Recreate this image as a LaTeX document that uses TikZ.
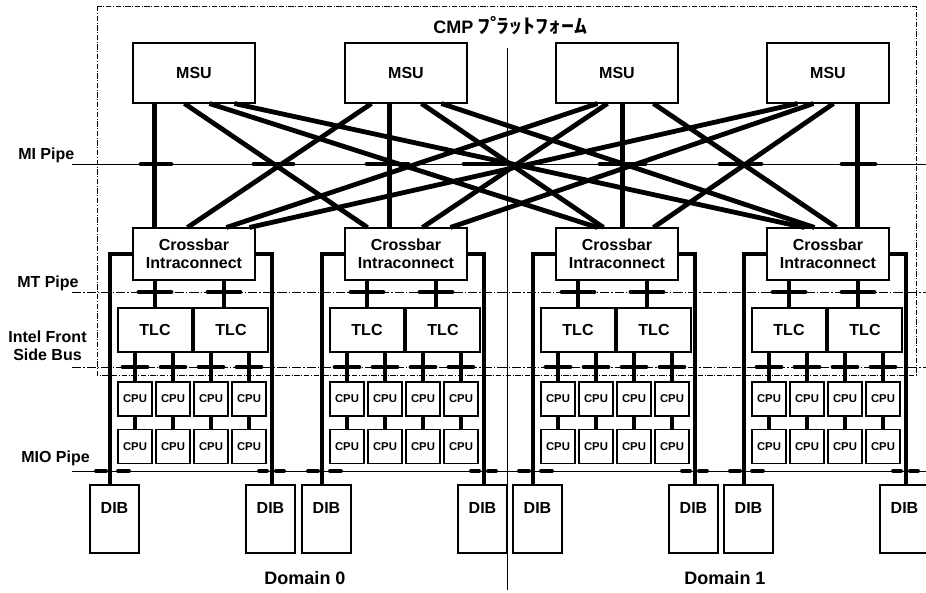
\documentclass[tikz,border=0pt]{standalone}
\usepackage{fontspec}
\setmainfont{Liberation Sans}
\newfontfamily\jpfont{Noto Sans CJK JP}[BoldFont={* Bold}]
\usetikzlibrary{calc}
\begin{document}
\begin{tikzpicture}[x=0.75pt,y=-0.75pt,
  every node/.style={font=\bfseries\fontsize{12}{13.5}\selectfont, inner sep=0pt},
  box/.style={draw, line width=0.8pt},
  msu/.style={box, minimum width=91.5pt, minimum height=45pt},
  cbox/.style={box, minimum width=91.5pt, minimum height=39pt, align=center},
  tlc/.style={box, minimum width=55.5pt, minimum height=33pt},
  cpu/.style={box, minimum width=25.5pt, minimum height=25.5pt, font=\bfseries\fontsize{8.5}{10}\selectfont},
  dib/.style={box, minimum width=36.75pt, minimum height=51pt},
  lbl/.style={anchor=base west},
  bus/.style={line width=3.6pt},
  framel/.style={line width=3pt, line join=miter},
  pipe/.style={line width=0.75pt},
  dpipe/.style={line width=0.75pt, dash pattern=on 7pt off 1.5pt on 1pt off 1.5pt},
  tap/.style={line width=3.6pt, line cap=round},
  mtap/.style={line width=3pt, line cap=round},
  outer/.style={line width=0.7pt, dash pattern=on 4pt off 1.2pt on 0.8pt off 1.2pt},
]
\useasboundingbox (0,0) rectangle (926,593);
\clip (0,0) rectangle (926,593);

% outer platform frame and title
\draw[outer] (97,6) rectangle (916,375);
\node[anchor=base west] (title) at (433,33) {\fontsize{13.5}{16}\selectfont CMP\hspace{3pt}{\jpfont\fontsize{15}{16}\selectfont\scalebox{1.3}[1]{ﾌﾟ\kern-0.25emﾗｯﾄﾌｫｰﾑ}}};

% domain divider
\coordinate (divtop) at (507,48);
\coordinate (divbot) at (507,590);
\draw[pipe] (divtop) -- (divbot);

% pipes
\coordinate (mi0) at (72,164);   \coordinate (mi1) at (926,164);
\coordinate (mt0) at (72,292);   \coordinate (mt1) at (926,292);
\coordinate (fsb0) at (72,367);  \coordinate (fsb1) at (926,367);
\coordinate (mio0) at (72,471);  \coordinate (mio1) at (926,471);
\draw[pipe] (mi0) -- (mi1);
\draw[dpipe] (mt0) -- (mt1);
\draw[dpipe] (fsb0) -- (fsb1);
\draw[pipe] (mio0) -- (mio1);

% left labels
\node[lbl] (lmi) at (18,159) {MI Pipe};
\node[lbl] (lmt) at (17,287) {MT Pipe};
\node[align=center] (lfsb) at (47.5,346) {Intel Front\\Side Bus};
\node[lbl] (lmio) at (21,462) {MIO Pipe};

% domain labels
\node[anchor=base, font=\bfseries\fontsize{13.5}{16}\selectfont] (dom0) at (305,584) {Domain 0};
\node[anchor=base, font=\bfseries\fontsize{13.5}{16}\selectfont] (dom1) at (725,584) {Domain 1};

% groups
\foreach \g/\gx in {1/118,2/330,3/541,4/752}{
  \node[msu] (msu\g) at (\gx+76,73) {MSU};
  \node[cbox] (cb\g) at (\gx+76,254) {Crossbar\\Intraconnect};
  \node[tlc] (tlc\g a) at (\gx+37,330) {TLC};
  \node[tlc] (tlc\g b) at (\gx+113,330) {TLC};
  \foreach \k/\o in {1/17,2/55,3/93,4/131}{
    \node[cpu] (cpuA\g\k) at (\gx+\o,399) {CPU};
    \node[cpu] (cpuB\g\k) at (\gx+\o,446.5) {CPU};
  }
  % crossbar to TLC
  \coordinate (va\g) at (\gx+37,292);
  \coordinate (vb\g) at (\gx+106,292);
  \draw[bus] (cb\g.south -| va\g) -- (tlc\g a.north -| va\g);
  \draw[bus] (cb\g.south -| vb\g) -- (tlc\g b.north -| vb\g);
  \draw[tap] (\gx+21,292) -- (\gx+53,292);
  \draw[tap] (\gx+90,292) -- (\gx+122,292);
  % TLC to CPUs
  \foreach \k/\o/\t in {1/17/a,2/55/a,3/93/b,4/131/b}{
    \draw[bus] (tlc\g\t.south -| cpuA\g\k.north) -- (cpuA\g\k.north);
    \draw[tap] (\gx+\o-12,367) -- (\gx+\o+12,367);
    \draw[bus] (cpuA\g\k.south) -- (cpuB\g\k.north);
  }
  % DIBs and frame
  \node[dib] (dibL\g) at (\gx-3.5,519) {};
  \node (dibLt\g) at (\gx-3.5,508) {DIB};
  \node[dib] (dibR\g) at (\gx+152.5,519) {};
  \node (dibRt\g) at (\gx+152.5,508) {DIB};
  \coordinate (fl\g) at (\gx-8,485);
  \coordinate (fr\g) at (\gx+154,485);
  \draw[framel] (cb\g.west) -| (fl\g);
  \draw[framel] (cb\g.east) -| (fr\g);
  \draw[mtap] (\gx-22,471) -- (\gx-12,471);
  \draw[mtap] (\gx,471) -- (\gx+11,471);
  \draw[mtap] (\gx+141,471) -- (\gx+149,471);
  \draw[mtap] (\gx+158,471) -- (\gx+166,471);
}

% MI pipe taps
\foreach \l/\r in {141/171,254/293,367/408,464/505,600/645,720/761,842/875}
  \draw[tap] (\l,164) -- (\r,164);

% MSU to crossbar links
\foreach \i/\j/\a/\b in {1/1/22/22, 1/2/52/23, 1/3/77/42, 1/4/102/38,
                         2/1/27/55, 2/2/45/45, 2/3/77/48, 2/4/97/48,
                         3/1/42/94, 3/2/52/78, 3/3/67/67, 3/4/98/70,
                         4/1/31/117, 4/2/47/106, 4/3/67/98, 4/4/91/91}
  \draw[bus] ($(msu\i.south west)+(\a,0)$) -- ($(cb\j.north west)+(\b,0)$);
\end{tikzpicture}
\end{document}
